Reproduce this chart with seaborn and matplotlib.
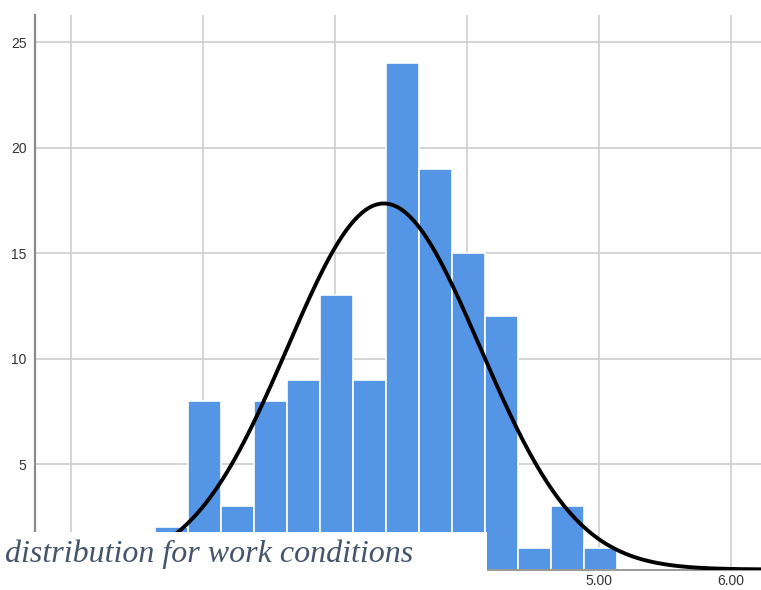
import numpy as np
import pandas as pd
import matplotlib
matplotlib.use("Agg")
import matplotlib.pyplot as plt
from matplotlib.patches import Rectangle
import seaborn as sns

# ---- data ----
bin_start = 1.636
bin_width = 0.25
counts = [2, 8, 3, 8, 9, 13, 9, 24, 19, 15, 12, 1, 3, 1]
curve_mean = 3.37
curve_sd = 0.73
x_ticks = [1, 2, 3, 4, 5, 6]
x_tick_labels = ["1.00", "2.00", "3.00", "4.00", "5.00", "6.00"]
y_ticks = [5, 10, 15, 20, 25]
caption = "distribution for work conditions"

edges = [bin_start + bin_width * k for k in range(len(counts) + 1)]
mids = [(edges[k] + edges[k + 1]) / 2 for k in range(len(counts))]
df = pd.DataFrame({"value": mids, "count": counts})

sns.set_theme(style="white")
plt.rcParams["font.family"] = ["Liberation Sans", "DejaVu Sans"]

W, H = 761, 590
fig = plt.figure(figsize=(W / 100, H / 100), dpi=100)
ax = fig.add_axes([35 / W, (H - 569.5) / H, (W - 35) / W, (569.5 - 14.7) / H])

ax.set_axisbelow(True)
ax.grid(True, color="#cdcdcd", linewidth=1.2)

sns.histplot(data=df, x="value", weights="count", bins=edges, ax=ax,
             color="#5595e5", alpha=1.0, edgecolor="white", linewidth=1.2)

n = sum(counts)
xs = np.linspace(0.5, 6.5, 400)
ys = n * bin_width * np.exp(-0.5 * ((xs - curve_mean) / curve_sd) ** 2) / (curve_sd * np.sqrt(2 * np.pi))
sns.lineplot(x=xs, y=ys, ax=ax, color="black", linewidth=2.8, zorder=5)

ax.set_xlim(1 + (35 - 71) / 132, 1 + (761 - 71) / 132)
ax.set_ylim(0, 26.3)
ax.set_xticks(x_ticks)
ax.set_xticklabels(x_tick_labels)
ax.set_yticks(y_ticks)
ax.set_xlabel("")
ax.set_ylabel("")
ax.tick_params(axis="both", length=0, labelsize=10, colors="#333333")
ax.tick_params(axis="y", pad=6)
ax.tick_params(axis="x", pad=3)
for s in ["top", "right"]:
    ax.spines[s].set_visible(False)
ax.spines["left"].set_color("#8a8a8a")
ax.spines["left"].set_linewidth(1.6)
ax.spines["bottom"].set_color("#999999")
ax.spines["bottom"].set_linewidth(1.4)

# white patch covering the lower-left corner, with caption text
fig.patches.append(Rectangle((0, 0), 487 / W, 58 / H, transform=fig.transFigure,
                             facecolor="white", edgecolor="none", zorder=10))
fig.text(5 / W, (H - 562) / H, caption, fontsize=23, style="italic",
         family=["Liberation Serif", "DejaVu Serif"], color="#44546a",
         ha="left", va="baseline", zorder=11)

fig.savefig("out.png", dpi=100)
